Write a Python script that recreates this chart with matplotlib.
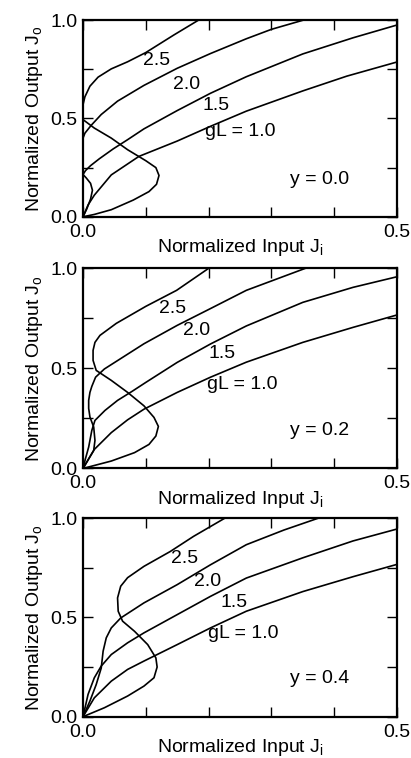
import matplotlib
matplotlib.use("Agg")
import matplotlib.pyplot as plt
from matplotlib.ticker import FixedLocator, FuncFormatter

plt.rcParams["font.family"] = ["Liberation Sans", "DejaVu Sans"]
plt.rcParams["mathtext.default"] = "regular"

# curve values: (J_i, J_o) pairs for each gL
# --- y = 0.0 ---
ji_y00_gl10 = [0, 0.008, 0.018, 0.045, 0.089, 0.15, 0.203, 0.26, 0.35, 0.42, 0.5]
jo_y00_gl10 = [0, 0.06, 0.11, 0.213, 0.307, 0.385, 0.46, 0.537, 0.64, 0.715, 0.787]
ji_y00_gl15 = [0, 0.006, 0.012, 0.015, 0.012, 0.005, 0.0, 0.004, 0.012, 0.026, 0.048,
               0.071, 0.097, 0.15, 0.203, 0.26, 0.35, 0.43, 0.5]
jo_y00_gl15 = [0, 0.04, 0.09, 0.135, 0.17, 0.198, 0.215, 0.235, 0.26, 0.295, 0.345,
               0.392, 0.447, 0.54, 0.628, 0.712, 0.828, 0.91, 0.975]
ji_y00_gl20 = [0, 0, 0.003, 0.013, 0.029, 0.055, 0.097, 0.15, 0.203, 0.26, 0.3, 0.351]
jo_y00_gl20 = [0, 0.40, 0.425, 0.465, 0.52, 0.588, 0.668, 0.755, 0.83, 0.905, 0.953, 1.0]
ji_y00_gl25 = [0, 0.018, 0.045, 0.08, 0.105, 0.117, 0.121, 0.116, 0.1, 0.071, 0.045,
               0.018, 0.0, 0.0, 0.003, 0.011, 0.024, 0.045, 0.071, 0.1, 0.145, 0.184]
jo_y00_gl25 = [0, 0.012, 0.036, 0.085, 0.128, 0.165, 0.21, 0.25, 0.285, 0.341, 0.4,
               0.451, 0.494, 0.57, 0.61, 0.664, 0.71, 0.752, 0.788, 0.835, 0.925, 1.0]

# --- y = 0.2 ---
ji_y02_gl10 = [0, 0.018, 0.045, 0.071, 0.097, 0.15, 0.203, 0.26, 0.35, 0.43, 0.5]
jo_y02_gl10 = [0, 0.095, 0.179, 0.243, 0.296, 0.38, 0.456, 0.531, 0.63, 0.705, 0.767]
ji_y02_gl15 = [0, 0.004, 0.009, 0.014, 0.019, 0.027, 0.035, 0.055, 0.078, 0.1, 0.15,
               0.203, 0.26, 0.35, 0.43, 0.5]
jo_y02_gl15 = [0, 0.05, 0.107, 0.19, 0.24, 0.265, 0.29, 0.34, 0.385, 0.43, 0.53,
               0.622, 0.712, 0.83, 0.905, 0.958]
ji_y02_gl20 = [0, 0.009, 0.017, 0.019, 0.017, 0.011, 0.009, 0.009, 0.011, 0.014, 0.02,
               0.034, 0.055, 0.097, 0.15, 0.203, 0.26, 0.354]
jo_y02_gl20 = [0, 0.048, 0.09, 0.14, 0.207, 0.257, 0.3, 0.34, 0.38, 0.41, 0.456,
               0.497, 0.539, 0.623, 0.715, 0.799, 0.89, 1.0]
ji_y02_gl25 = [0, 0.045, 0.082, 0.105, 0.116, 0.12, 0.113, 0.097, 0.071, 0.045, 0.021,
               0.016, 0.016, 0.019, 0.027, 0.053, 0.1, 0.149, 0.2]
jo_y02_gl25 = [0, 0.037, 0.079, 0.12, 0.162, 0.21, 0.255, 0.313, 0.38, 0.44, 0.49,
               0.54, 0.59, 0.63, 0.665, 0.725, 0.81, 0.89, 1.0]

# --- y = 0.4 ---
ji_y04_gl10 = [0, 0.018, 0.045, 0.071, 0.097, 0.15, 0.203, 0.26, 0.35, 0.43, 0.5]
jo_y04_gl10 = [0, 0.095, 0.179, 0.238, 0.28, 0.363, 0.447, 0.531, 0.63, 0.705, 0.767]
ji_y04_gl15 = [0, 0.008, 0.018, 0.029, 0.045, 0.071, 0.097, 0.15, 0.203, 0.26, 0.35,
               0.43, 0.5]
jo_y04_gl15 = [0, 0.112, 0.196, 0.255, 0.313, 0.372, 0.422, 0.514, 0.606, 0.698, 0.8,
               0.885, 0.945]
ji_y04_gl20 = [0, 0.011, 0.021, 0.029, 0.032, 0.037, 0.045, 0.06, 0.097, 0.15, 0.203,
               0.26, 0.32, 0.375]
jo_y04_gl20 = [0, 0.079, 0.162, 0.245, 0.33, 0.397, 0.447, 0.497, 0.573, 0.665, 0.765,
               0.866, 0.94, 1.0]
ji_y04_gl25 = [0, 0.034, 0.071, 0.097, 0.113, 0.118, 0.116, 0.103, 0.082, 0.063, 0.056,
               0.055, 0.06, 0.071, 0.097, 0.139, 0.176, 0.226]
jo_y04_gl25 = [0, 0.045, 0.104, 0.154, 0.196, 0.25, 0.296, 0.363, 0.43, 0.481, 0.531,
               0.598, 0.657, 0.7, 0.757, 0.832, 0.908, 1.0]

y_labels = ["y = 0.0", "y = 0.2", "y = 0.4"]
curve_labels = ["gL = 1.0", "1.5", "2.0", "2.5"]

panels = [
    [(ji_y00_gl10, jo_y00_gl10), (ji_y00_gl15, jo_y00_gl15),
     (ji_y00_gl20, jo_y00_gl20), (ji_y00_gl25, jo_y00_gl25)],
    [(ji_y02_gl10, jo_y02_gl10), (ji_y02_gl15, jo_y02_gl15),
     (ji_y02_gl20, jo_y02_gl20), (ji_y02_gl25, jo_y02_gl25)],
    [(ji_y04_gl10, jo_y04_gl10), (ji_y04_gl15, jo_y04_gl15),
     (ji_y04_gl20, jo_y04_gl20), (ji_y04_gl25, jo_y04_gl25)],
]

# where the gL labels sit in each panel (data coords)
label_pos = [
    [(0.25, 0.432), (0.212, 0.567), (0.165, 0.674), (0.117, 0.797)],
    [(0.254, 0.417), (0.222, 0.575), (0.18, 0.688), (0.142, 0.80)],
    [(0.255, 0.417), (0.24, 0.575), (0.198, 0.68), (0.161, 0.795)],
]

# axes boxes in figure fraction [left, bottom, width, height]
boxes = [
    [0.202, 0.714, 0.764, 0.2595],
    [0.202, 0.382, 0.764, 0.264],
    [0.202, 0.0545, 0.764, 0.262],
]

fig = plt.figure(figsize=(4.11, 7.58), dpi=100)

for k in range(3):
    ax = fig.add_axes(boxes[k])
    for ji, jo in panels[k]:
        ax.plot(ji, jo, color="black", lw=1.2, solid_joinstyle="round")
    for txt, (px, py) in zip(curve_labels, label_pos[k]):
        ax.text(px, py, txt, fontsize=14, ha="center", va="center")
    ax.text(0.376, 0.19, y_labels[k], fontsize=14, ha="center", va="center")

    ax.set_xlim(0, 0.5)
    ax.set_ylim(0, 1.0)
    ax.xaxis.set_major_locator(FixedLocator([0, 0.1, 0.2, 0.3, 0.4, 0.5]))
    ax.yaxis.set_major_locator(FixedLocator([0, 0.25, 0.5, 0.75, 1.0]))
    ax.xaxis.set_major_formatter(FuncFormatter(
        lambda v, p: "%.1f" % v if abs(v) < 1e-9 or abs(v - 0.5) < 1e-9 else ""))
    ax.yaxis.set_major_formatter(FuncFormatter(
        lambda v, p: "%.1f" % v if abs(v * 2 - round(v * 2)) < 1e-9 else ""))
    ax.tick_params(direction="in", length=7, width=1.0, top=True, right=True,
                   labelsize=14)
    ax.tick_params(axis="x", pad=5)
    ax.tick_params(axis="y", pad=4)
    for s in ax.spines.values():
        s.set_linewidth(1.6)
    ax.set_xlabel("Normalized Input J$_i$", fontsize=14, labelpad=-2.5)
    ax.set_ylabel("Normalized Output J$_o$", fontsize=14, labelpad=4)

fig.savefig("out.png", dpi=100)
